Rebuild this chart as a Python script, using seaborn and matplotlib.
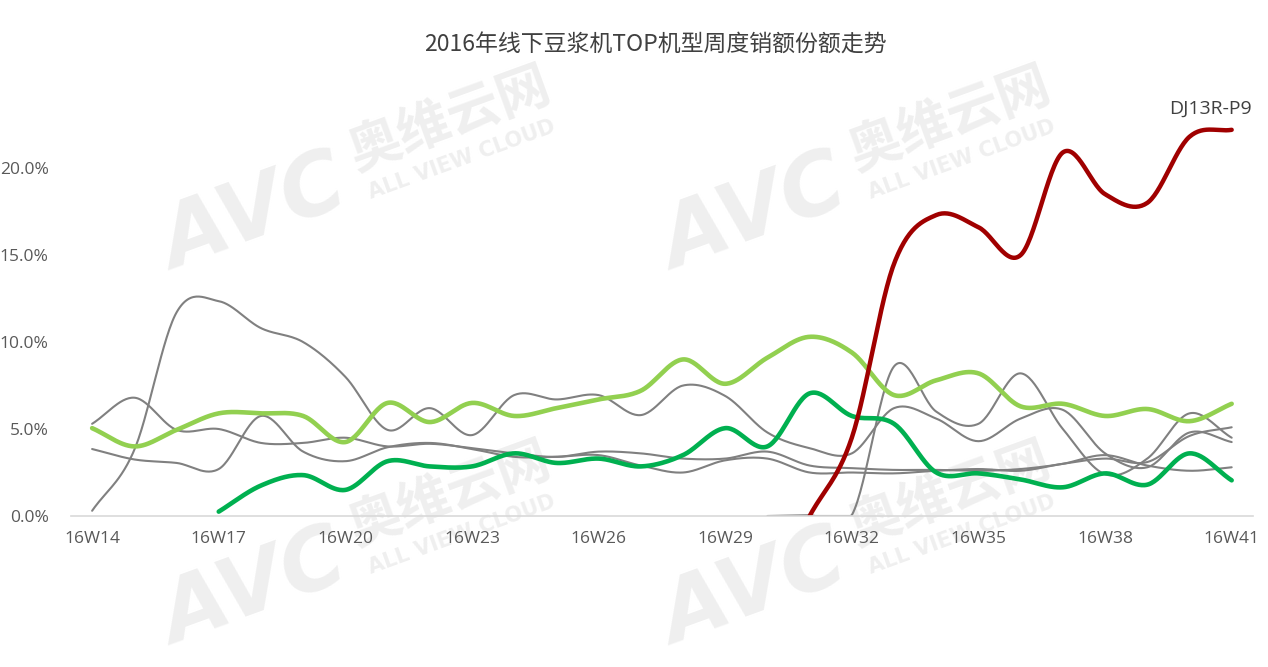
import numpy as np
import pandas as pd
import matplotlib.pyplot as plt
import matplotlib.ticker as mtick
import seaborn as sns

# weekly sales share (%) by model, weeks 16W14 .. 16W41
weeks = list(range(14, 42))
tick_weeks = [14, 17, 20, 23, 26, 29, 32, 35, 38, 41]
tick_labels = ["16W%d" % w for w in tick_weeks]

na = np.nan
dj13r_p9 = [na] * 17 + [0.0, 4.5, 14.5, 17.3, 16.6, 15.0, 20.9, 18.5, 18.0, 21.8, 22.2]
light_green = [5.05, 4.0, 4.95, 5.9, 5.9, 5.75, 4.25, 6.5, 5.4, 6.5, 5.75, 6.2, 6.7, 7.2,
               9.0, 7.6, 9.1, 10.3, 9.4, 6.95, 7.8, 8.2, 6.3, 6.45, 5.75, 6.15, 5.45, 6.45]
dark_green = [na] * 3 + [0.25, 1.75, 2.35, 1.5, 3.15, 2.85, 2.85, 3.6, 3.05, 3.3, 2.85, 3.5,
                         5.05, 4.0, 7.05, 5.75, 5.3, 2.5, 2.45, 2.1, 1.65, 2.45, 1.8, 3.6, 2.05]
gray_a = [0.3, 3.8, 11.7, 12.35, 10.8, 10.0, 8.0, 4.95, 6.2, 4.65, 6.95, 6.7, 6.95, 5.8,
          7.5, 6.9, 4.8, 3.9, 3.6, 6.2, 5.6, 4.3, 5.6, 6.1, 3.6, 2.8, 4.8, 4.25]
gray_b = [5.3, 6.8, 4.95, 5.0, 4.2, 4.2, 4.5, 4.0, 4.15, 3.9, 3.6, 3.4, 3.7, 3.6,
          3.3, 3.3, 3.7, 2.9, 2.75, 2.65, 2.65, 2.6, 2.7, 3.0, 3.5, 2.9, 2.6, 2.8]
gray_c = [3.85, 3.25, 3.05, 2.7, 5.75, 3.7, 3.15, 3.95, 4.2, 3.85, 3.4, 3.4, 3.5, 2.9,
          2.5, 3.2, 3.3, 2.5, 2.5, 2.45, 2.6, 2.7, 2.6, 3.0, 3.3, 3.1, 4.6, 5.1]
gray_e = [na] * 16 + [0.0, 0.05, 0.05, 8.6, 6.0, 5.3, 8.2, 5.0, 2.4, 3.3, 5.9, 4.5]


def smooth(xs, ys, n=30):
    # Catmull-Rom curve through the weekly points (like Excel's smoothed line)
    pts = [(x, y) for x, y in zip(xs, ys) if not np.isnan(y)]
    x = np.array([p[0] for p in pts], float)
    y = np.array([p[1] for p in pts], float)
    xp = np.concatenate([[2 * x[0] - x[1]], x, [2 * x[-1] - x[-2]]])
    yp = np.concatenate([[2 * y[0] - y[1]], y, [2 * y[-1] - y[-2]]])
    ox, oy = [], []
    t = np.linspace(0, 1, n, endpoint=False)
    for i in range(1, len(xp) - 2):
        for arr, out in ((xp, ox), (yp, oy)):
            p0, p1, p2, p3 = arr[i - 1], arr[i], arr[i + 1], arr[i + 2]
            out.extend(0.5 * (2 * p1 + (-p0 + p2) * t + (2 * p0 - 5 * p1 + 4 * p2 - p3) * t ** 2
                              + (-p0 + 3 * p1 - 3 * p2 + p3) * t ** 3))
    ox.append(x[-1])
    oy.append(y[-1])
    return pd.DataFrame({"week": ox, "share": np.clip(oy, 0, None)})


sns.set_style("white")
plt.rcParams['font.family'] = ['Open Sans', 'Noto Sans CJK SC', 'DejaVu Sans']

fig = plt.figure(figsize=(12.68, 6.67), dpi=100)
ax = fig.add_axes([0.056, 0.2264, 0.932, 0.652])
ax.set_zorder(2)
ax.patch.set_alpha(0)

# faint watermarks
cjk = ['Noto Sans CJK SC', 'DejaVu Sans']
for dx, dy in [(0, 0), (500, 0), (0, 375), (500, 375)]:
    fig.text((255 + dx) / 1268, 1 - (215 + dy) / 667, "AVC", fontsize=62, fontweight='bold',
             style='italic', color='#efefef', rotation=20, ha='center', va='center', zorder=0,
             family=['DejaVu Sans'])
    fig.text((450 + dx) / 1268, 1 - (120 + dy) / 667, "奥维云网", fontsize=38, fontweight='bold',
             color='#efefef', rotation=20, ha='center', va='center', zorder=0, family=cjk)
    fig.text((462 + dx) / 1268, 1 - (160 + dy) / 667, "ALL VIEW CLOUD", fontsize=15,
             fontweight='bold', color='#efefef', rotation=20, ha='center', va='center',
             zorder=0, family=['DejaVu Sans'])

grays = [gray_a, gray_b, gray_c, gray_e]
for g in grays:
    sns.lineplot(data=smooth(weeks, g), x="week", y="share", ax=ax, color='#808080',
                 linewidth=1.5, sort=False, estimator=None)
sns.lineplot(data=smooth(weeks, dark_green), x="week", y="share", ax=ax, color='#00B050',
             linewidth=3.3, sort=False, estimator=None)
sns.lineplot(data=smooth(weeks, light_green), x="week", y="share", ax=ax, color='#92D050',
             linewidth=3.3, sort=False, estimator=None)
sns.lineplot(data=smooth(weeks, dj13r_p9), x="week", y="share", ax=ax, color='#A00000',
             linewidth=3.2, sort=False, estimator=None)

ax.text(41.47, 23.4, "DJ13R-P9", fontsize=14, color='#404040', ha='right', va='center')

ax.set_xlim(13.5, 41.5)
ax.set_ylim(0, 25)
ax.set_xticks(tick_weeks)
ax.set_xticklabels(tick_labels)
ax.set_yticks([0, 5, 10, 15, 20])
ax.yaxis.set_major_formatter(mtick.FuncFormatter(lambda v, p: "%.1f%%" % v))
ax.tick_params(axis='both', labelsize=12.5, colors='#595959', length=0)
ax.tick_params(axis='x', pad=11)
ax.tick_params(axis='y', pad=16)
ax.set_xlabel("")
ax.set_ylabel("")
for s in ['top', 'right', 'left']:
    ax.spines[s].set_visible(False)
ax.spines['bottom'].set_color('#d9d9d9')
ax.spines['bottom'].set_linewidth(1.2)

fig.text(0.517, 1 - 45 / 667, "2016年线下豆浆机TOP机型周度销额份额走势", fontsize=16.5,
         color='#404040', ha='center', va='center', family=cjk)

fig.savefig("out.png", dpi=100)
